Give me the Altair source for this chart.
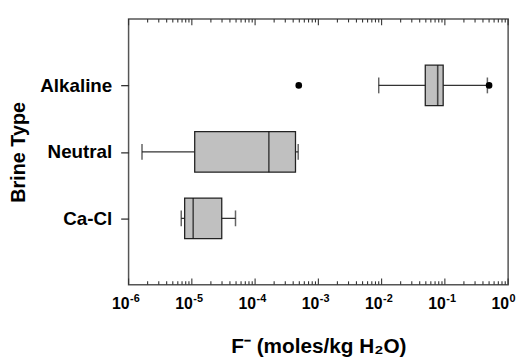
import altair as alt
import pandas as pd

# ---- data ----
categories = ["Alkaline", "Neutral", "Ca-Cl"]
whisker_low = [0.0090, 1.63e-6, 6.8e-6]
q1 = [0.049, 1.11e-5, 7.7e-6]
median = [0.077, 1.65e-4, 1.05e-5]
q3 = [0.094, 4.35e-4, 2.97e-5]
whisker_high = [0.47, 4.8e-4, 4.9e-5]
outlier_cat = ["Alkaline", "Alkaline"]
outlier_val = [0.00049, 0.50]
decade_exponents = [-6, -5, -4, -3, -2, -1, 0]
minor_multipliers = [2, 3, 4, 5, 6, 7, 8, 9]

W, H = 384, 269
FONT = "Liberation Sans"

boxes = pd.DataFrame({"cat": categories, "lo": whisker_low, "q1": q1,
                      "med": median, "q3": q3, "hi": whisker_high})
caps = pd.DataFrame({"cat": categories * 2, "v": whisker_low + whisker_high})
outs = pd.DataFrame({"cat": outlier_cat, "v": outlier_val})
decades = pd.DataFrame({"v": [10.0 ** e for e in decade_exponents],
                        "exp": [str(e) for e in decade_exponents]})
minors = pd.DataFrame({"v": [m * 10.0 ** e for e in decade_exponents[:-1]
                             for m in minor_multipliers]})

xscale = alt.Scale(type="log", domain=[1e-6, 1], nice=False)
yscale = alt.Scale(type="point", padding=1, domain=categories)
yaxis = alt.Axis(title="Brine Type", labelFontSize=19, labelFontWeight="bold",
                 labelColor="black", labelPadding=9, tickSize=8, tickColor="#333",
                 tickWidth=1.3, domain=False, titleFontSize=20, titleFontWeight="bold",
                 titleColor="black", titleAngle=270, titleX=-105, titleY=H / 2,
                 titleAlign="center", titleBaseline="alphabetic")
xaxis = alt.Axis(title="F\u207b (moles/kg H\u2082O)", labels=False, ticks=False,
                 domain=False, titleFontSize=21, titleFontWeight="bold",
                 titleColor="black", titleX=W / 2, titleY=68,
                 titleBaseline="alphabetic", titleAlign="center")

base = alt.Chart(boxes)
whiskers = base.mark_rule(color="#333", strokeWidth=1.3).encode(
    x=alt.X("lo:Q", scale=xscale, axis=xaxis),
    x2="hi:Q",
    y=alt.Y("cat:N", scale=yscale, axis=yaxis),
)
cap_marks = alt.Chart(caps).mark_tick(color="#222", size=16, thickness=1.5).encode(
    x=alt.X("v:Q", scale=xscale),
    y=alt.Y("cat:N", scale=yscale),
)
bars = base.mark_bar(size=41, fill="#c0c0c0", stroke="#222", strokeWidth=1.3).encode(
    x=alt.X("q1:Q", scale=xscale),
    x2="q3:Q",
    y=alt.Y("cat:N", scale=yscale),
)
meds = base.mark_tick(color="#111", size=41, thickness=1.6).encode(
    x=alt.X("med:Q", scale=xscale),
    y=alt.Y("cat:N", scale=yscale),
)
points = alt.Chart(outs).mark_circle(color="black", size=45, opacity=1).encode(
    x=alt.X("v:Q", scale=xscale),
    y=alt.Y("cat:N", scale=yscale),
)

tick_style = dict(color="#333", strokeWidth=1.1)
minor_bottom = alt.Chart(minors).mark_rule(**tick_style).encode(
    x=alt.X("v:Q", scale=xscale), y=alt.value(H), y2=alt.value(H - 3.5))
minor_top = alt.Chart(minors).mark_rule(**tick_style).encode(
    x=alt.X("v:Q", scale=xscale), y=alt.value(0), y2=alt.value(3.5))
major_bottom = alt.Chart(decades).mark_rule(**tick_style).encode(
    x=alt.X("v:Q", scale=xscale), y=alt.value(H), y2=alt.value(H - 6.5))
major_top = alt.Chart(decades).mark_rule(**tick_style).encode(
    x=alt.X("v:Q", scale=xscale), y=alt.value(0), y2=alt.value(6.5))

ten_labels = alt.Chart(decades).mark_text(
    font=FONT, fontSize=16, fontWeight="bold", color="black", align="right",
    baseline="alphabetic", dx=1).encode(
    x=alt.X("v:Q", scale=xscale), y=alt.value(H + 24), text=alt.value("10"))
exp_labels = alt.Chart(decades).mark_text(
    font=FONT, fontSize=11, fontWeight="bold", color="black", align="left",
    baseline="alphabetic", dx=1.5).encode(
    x=alt.X("v:Q", scale=xscale), y=alt.value(H + 17), text="exp:N")

chart = alt.layer(
    whiskers, cap_marks, bars, meds, points,
    minor_bottom, minor_top, major_bottom, major_top,
    ten_labels, exp_labels,
).properties(
    width=W, height=H,
    padding={"left": 122, "top": 9, "right": 11, "bottom": 75},
    autosize=alt.AutoSizeParams(type="none"),
).configure(
    font=FONT,
).configure_view(
    stroke="#555", strokeWidth=1.5,
).configure_axis(
    grid=False,
)

chart.save("out.html", embed_options={"renderer": "svg", "actions": False})
